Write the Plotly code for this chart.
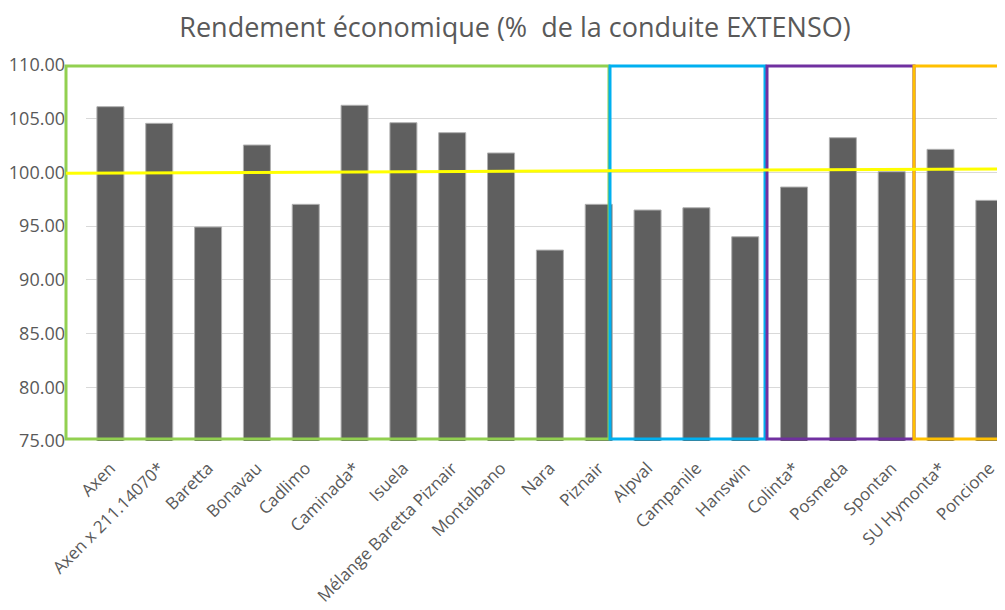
import plotly.graph_objects as go

categories = ["Axen", "Axen x 211.14070*", "Baretta", "Bonavau", "Cadlimo", "Caminada*",
              "Isuela", "Mélange Baretta Piznair", "Montalbano", "Nara", "Piznair",
              "Alpval", "Campanile", "Hanswin", "Colinta*", "Posmeda", "Spontan",
              "SU Hymonta*", "Poncione"]
values = [106.12, 104.57, 94.92, 102.55, 97.03, 106.25, 104.63, 103.70, 101.81, 92.77,
          97.03, 96.50, 96.71, 94.01, 98.64, 103.23, 100.07, 102.15, 97.40]
y_ticks = [75, 80, 85, 90, 95, 100, 105, 110]
title = "Rendement économique (%  de la conduite EXTENSO)"

OFF = 8  # default page body margin
W, H = 1005 - OFF, 610 - OFF
ML, MR, MT, MB = 86 - OFF, 0, 65 - OFF, 169
PW, PH = W - ML - MR, H - MT - MB

def px_x(p):
    return (p - OFF - ML) / PW

def px_y(p):
    return (H - MB - (p - OFF)) / PH

fig = go.Figure()
fig.add_trace(go.Bar(
    x=categories, y=values,
    marker=dict(color="#5f5f5f", line=dict(color="#b0b0b0", width=1)),
))

font = "Open Sans"
fig.update_layout(
    width=W, height=H,
    margin=dict(l=ML, r=MR, t=MT, b=MB),
    paper_bgcolor="white", plot_bgcolor="white",
    showlegend=False,
    bargap=0.447,
    title=dict(text=title, x=(515 - OFF) / W, xanchor="center",
               y=1 - (28 - OFF) / H, yanchor="middle",
               font=dict(family=font, size=27, color="#595959")),
    xaxis=dict(type="category", range=[-0.5, 18.32], tickangle=-45, automargin=False,
               tickfont=dict(family=font, size=17, color="#595959"),
               showgrid=False, showline=False, ticks="", ticklabelstandoff=13),
    yaxis=dict(range=[75, 110], tickvals=y_ticks, tickformat=".2f", automargin=False,
               tickfont=dict(family=font, size=18, color="#595959"),
               showgrid=True, gridcolor="#d9d9d9", gridwidth=1,
               zeroline=False, showline=False, ticks="", ticklabelstandoff=20),
)

boxes = [
    (66, 609, "#92d050"),
    (610, 765, "#00b0f0"),
    (767, 914, "#7030a0"),
    (914, 1012, "#ffc000"),
]
for x0, x1, col in boxes:
    fig.add_shape(type="rect", xref="paper", yref="paper",
                  x0=px_x(x0), x1=px_x(x1), y0=px_y(439), y1=px_y(66),
                  line=dict(color=col, width=3), fillcolor="rgba(0,0,0,0)", layer="above")

fig.add_shape(type="line", xref="paper", yref="paper",
              x0=px_x(66), x1=px_x(1005), y0=px_y(173.3), y1=px_y(169),
              line=dict(color="#ffff00", width=3), layer="above")

fig.write_html("out.html")
